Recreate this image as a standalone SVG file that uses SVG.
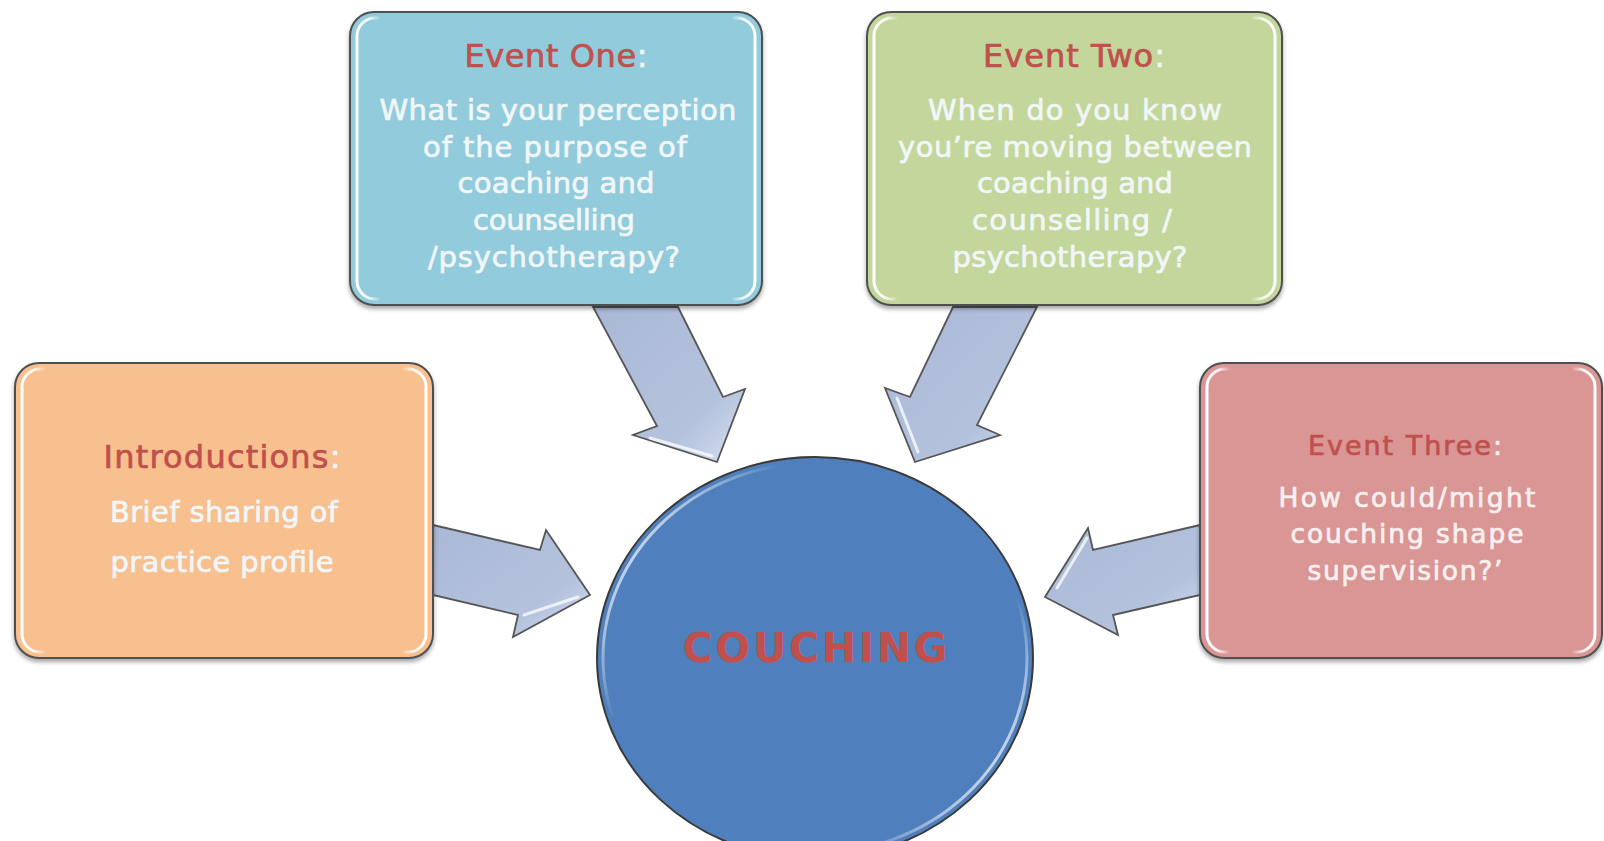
<svg xmlns="http://www.w3.org/2000/svg" width="1604" height="841" viewBox="0 0 1604 841">
<defs>
  <filter id="sh" x="-5%" y="-5%" width="110%" height="115%">
    <feDropShadow dx="0" dy="3" stdDeviation="2" flood-color="#000" flood-opacity="0.35"/>
  </filter>
  <linearGradient id="gloss" x1="0" y1="0" x2="1" y2="0">
    <stop offset="0" stop-color="#fff" stop-opacity="1"/>
    <stop offset="0.03" stop-color="#fff" stop-opacity="0.85"/>
    <stop offset="0.06" stop-color="#fff" stop-opacity="0"/>
    <stop offset="0.94" stop-color="#fff" stop-opacity="0"/>
    <stop offset="0.97" stop-color="#fff" stop-opacity="0.85"/>
    <stop offset="1" stop-color="#fff" stop-opacity="1"/>
  </linearGradient>
  <linearGradient id="cgloss" x1="0" y1="0.2" x2="1" y2="0.8">
    <stop offset="0" stop-color="#fff" stop-opacity="0.95"/>
    <stop offset="0.22" stop-color="#fff" stop-opacity="0"/>
    <stop offset="0.78" stop-color="#fff" stop-opacity="0"/>
    <stop offset="1" stop-color="#fff" stop-opacity="0.95"/>
  </linearGradient>
  <linearGradient id="agrad" x1="0" y1="0" x2="1" y2="1">
    <stop offset="0" stop-color="#a9b8d6"/>
    <stop offset="0.7" stop-color="#b4c2dd"/>
    <stop offset="1" stop-color="#d6e0f0"/>
  </linearGradient>
</defs>
<style>
  .box { stroke: #505050; stroke-width: 2; filter: url(#sh); }
  .gl { fill: none; stroke: url(#gloss); stroke-width: 3; }
  .arrow { fill: url(#agrad); stroke: #555; stroke-width: 1.8; stroke-linejoin: miter; }
  .hl { fill: none; stroke: #fff; stroke-width: 3; stroke-opacity: 0.75; stroke-linecap: round; }
  .t { font-family: "DejaVu Sans", "Open Sans", sans-serif; text-anchor: middle; stroke-width: 0.7px; }
  .title { font-size: 32px; fill: #c0504d; stroke: #c0504d; }
  .title27 { font-size: 27px; fill: #c0504d; stroke: #c0504d; }
  .body { font-size: 29px; fill: #f1f6f8; stroke: #f1f6f8; }
  .body26 { font-size: 26.5px; fill: #f8f0f0; stroke: #f8f0f0; }
  .colon { fill: #eef6f8; stroke: #eef6f8; }
</style>
<rect width="1604" height="841" fill="#fff"/>

<g id="connectors">
  <polygon class="arrow" points="593,307 678,307 723,397 745,389 717,462 633,435 657,426"/>
  <polyline class="hl" points="650,438 712,456"/>
  <polygon class="arrow" points="953,307 1037,307 977,425 1000,435 915,462 885,388 910,397"/>
  <polyline class="hl" points="897,398 918,452"/>
  <polygon class="arrow" points="433,525 540,550 546,530 590,595 513,637 518,615 433,595"/>
  <polyline class="hl" points="524,615 578,597"/>
  <polygon class="arrow" points="1200,525 1093,550 1088,528 1045,597 1118,635 1113,615 1200,595"/>
  <polyline class="hl" points="1087,538 1057,588"/>
</g>

<g id="event-one">
  <rect class="box" x="350" y="12" width="412" height="293" rx="24" fill="#92cbdc"/>
  <rect class="gl" x="357" y="18" width="398" height="281" rx="18"/>
  <text class="t title" x="556" y="67" textLength="183">Event One<tspan class="colon">:</tspan></text>
  <text class="t body" x="558" y="120" textLength="357">What is your perception</text>
  <text class="t body" x="555" y="157" textLength="264">of the purpose of</text>
  <text class="t body" x="556" y="193" textLength="197">coaching and</text>
  <text class="t body" x="554" y="230" textLength="162">counselling</text>
  <text class="t body" x="554" y="267" textLength="252">/psychotherapy?</text>
</g>

<g id="event-two">
  <rect class="box" x="867" y="12" width="415" height="293" rx="24" fill="#c3d69b"/>
  <rect class="gl" x="874" y="18" width="401" height="281" rx="18"/>
  <text class="t title" x="1074" y="67" textLength="182">Event Two<tspan class="colon">:</tspan></text>
  <text class="t body" x="1075" y="120" textLength="294">When do you know</text>
  <text class="t body" x="1075" y="157" textLength="354">you’re moving between</text>
  <text class="t body" x="1075" y="193" textLength="196">coaching and</text>
  <text class="t body" x="1072" y="230" textLength="200">counselling  /</text>
  <text class="t body" x="1070" y="267" textLength="235">psychotherapy?</text>
</g>

<g id="introductions">
  <rect class="box" x="15" y="363" width="418" height="295" rx="24" fill="#f8c08f"/>
  <rect class="gl" x="22" y="369" width="404" height="283" rx="18"/>
  <text class="t title" x="222" y="468" textLength="237">Introductions<tspan class="colon" fill="#fdf0e6" stroke="#fdf0e6">:</tspan></text>
  <text class="t body" x="224" y="522" textLength="228" fill="#fdf3ec" stroke="#fdf3ec">Brief sharing of</text>
  <text class="t body" x="222" y="572" textLength="223" fill="#fdf3ec" stroke="#fdf3ec">practice profile</text>
</g>

<g id="event-three">
  <rect class="box" x="1200" y="363" width="402" height="295" rx="24" fill="#d99694"/>
  <rect class="gl" x="1207" y="369" width="388" height="283" rx="18"/>
  <text class="t title27" x="1405" y="455" textLength="194">Event Three<tspan fill="#fbeeee" stroke="#fbeeee">:</tspan></text>
  <text class="t body26" x="1407" y="507" textLength="257">How could/might</text>
  <text class="t body26" x="1407" y="543" textLength="233">couching shape</text>
  <text class="t body26" x="1405" y="580" textLength="195">supervision?’</text>
</g>

<g id="couching">
  <ellipse cx="815" cy="658" rx="218" ry="201" fill="#4f80bd" stroke="#3a3a3a" stroke-width="2"/>
  <ellipse cx="815" cy="658" rx="212" ry="195" fill="none" stroke="url(#cgloss)" stroke-width="3"/>
  <text class="t" x="815" y="662" font-size="41" font-weight="700" fill="#c0504d" textLength="265">COUCHING</text>
</g>
</svg>
